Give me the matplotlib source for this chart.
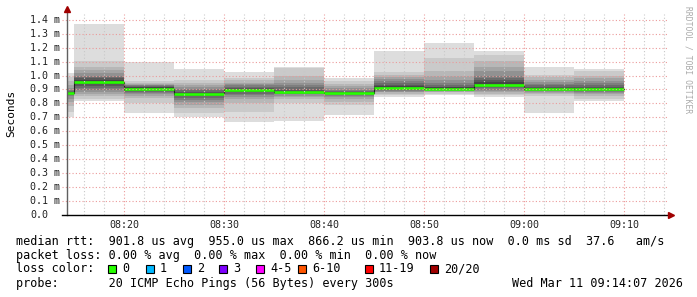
import matplotlib
matplotlib.use('Agg')
import matplotlib.pyplot as plt
import matplotlib.transforms as mtransforms
from matplotlib.patches import Rectangle
import numpy as np

W, H = 697, 297

# bin edges, minutes after 08:00 (5 min steps, first bin only partly shown)
edges = [10, 15, 20, 25, 30, 35, 40, 45, 50, 55, 60, 65, 70]

# median rtt per bin (ms)
median = [0.877, 0.956, 0.906, 0.865, 0.895, 0.882, 0.875, 0.912, 0.904, 0.933, 0.905, 0.904]

# the 20 sorted ping rtts of each bin (ms)
pings = [
    [0.700, 0.740, 0.780, 0.810, 0.830, 0.850, 0.860, 0.870, 0.875, 0.877, 0.878, 0.880, 0.885, 0.890, 0.900, 0.910, 0.930, 0.960, 0.990, 1.018],
    [0.817, 0.835, 0.850, 0.865, 0.880, 0.895, 0.910, 0.925, 0.940, 0.950, 0.960, 0.970, 0.980, 0.990, 1.000, 1.016, 1.040, 1.060, 1.105, 1.371],
    [0.733, 0.800, 0.840, 0.855, 0.865, 0.875, 0.885, 0.890, 0.900, 0.905, 0.910, 0.915, 0.920, 0.925, 0.930, 0.935, 0.940, 0.945, 0.960, 1.100],
    [0.704, 0.729, 0.765, 0.790, 0.810, 0.825, 0.840, 0.850, 0.860, 0.863, 0.868, 0.875, 0.885, 0.895, 0.905, 0.915, 0.930, 0.950, 0.968, 1.045],
    [0.668, 0.740, 0.800, 0.830, 0.845, 0.860, 0.870, 0.880, 0.885, 0.890, 0.900, 0.905, 0.910, 0.920, 0.930, 0.940, 0.950, 0.965, 0.985, 1.025],
    [0.673, 0.800, 0.830, 0.845, 0.855, 0.865, 0.870, 0.875, 0.880, 0.882, 0.885, 0.890, 0.900, 0.915, 0.930, 0.950, 0.970, 1.000, 1.055, 1.064],
    [0.717, 0.790, 0.810, 0.830, 0.845, 0.855, 0.865, 0.870, 0.873, 0.876, 0.878, 0.880, 0.885, 0.890, 0.900, 0.910, 0.925, 0.940, 0.960, 0.980],
    [0.848, 0.860, 0.870, 0.880, 0.885, 0.890, 0.895, 0.900, 0.905, 0.910, 0.915, 0.925, 0.935, 0.950, 0.960, 0.975, 0.990, 1.005, 1.028, 1.179],
    [0.860, 0.870, 0.880, 0.885, 0.890, 0.893, 0.896, 0.900, 0.903, 0.905, 0.910, 0.915, 0.920, 0.930, 0.945, 0.965, 1.000, 1.030, 1.124, 1.237],
    [0.848, 0.860, 0.870, 0.880, 0.890, 0.900, 0.910, 0.920, 0.930, 0.935, 0.945, 0.955, 0.970, 0.980, 1.000, 1.030, 1.064, 1.107, 1.148, 1.179],
    [0.733, 0.850, 0.865, 0.875, 0.885, 0.890, 0.895, 0.900, 0.903, 0.905, 0.908, 0.912, 0.920, 0.930, 0.940, 0.955, 0.970, 0.990, 1.004, 1.064],
    [0.817, 0.835, 0.850, 0.865, 0.875, 0.885, 0.890, 0.895, 0.900, 0.903, 0.906, 0.910, 0.920, 0.930, 0.945, 0.960, 0.980, 1.000, 1.030, 1.047],
]

xtick_pos = [20, 30, 40, 50, 60, 70]
xtick_labels = ["08:20", "08:30", "08:40", "08:50", "09:00", "09:10"]
ytick_vals = [0.0, 0.1, 0.2, 0.3, 0.4, 0.5, 0.6, 0.7, 0.8, 0.9, 1.0, 1.1, 1.2, 1.3, 1.4]
ytick_labels = ["0.0"] + ["%.1f m" % v for v in ytick_vals[1:]]

loss_labels = ["0", "1", "2", "3", "4-5", "6-10", "11-19", "20/20"]
loss_colors = ["#26ff00", "#00b8ff", "#0059ff", "#7e00ff", "#ff00ff", "#ff5500", "#ff0000", "#a00000"]
loss_box_x = [108, 146, 183, 219, 256, 298, 365, 430]

line_rtt = "median rtt:  901.8 us avg  955.0 us max  866.2 us min  903.8 us now  0.0 ms sd  37.6   am/s"
line_loss = "packet loss: 0.00 % avg  0.00 % max  0.00 % min  0.00 % now"
line_probe = "probe:       20 ICMP Echo Pings (56 Bytes) every 300s"
stamp = "Wed Mar 11 09:14:07 2026"

MONO = "DejaVu Sans Mono"
plt.rcParams['font.family'] = MONO


def fx(x):
    return x / W


def fy(y):
    return 1 - y / H


fig = plt.figure(figsize=(W / 100, H / 100), dpi=100)
fig.patch.set_facecolor('white')

# plot area in pixels
left, right, top, bottom = 67, 668, 13.5, 214.6
ax = fig.add_axes([fx(left), fy(bottom), (right - left) / W, (bottom - top) / H])
ax.set_xlim(14.27, 74.37)
ax.set_ylim(0, (bottom - top) / 139.0)
for s in ax.spines.values():
    s.set_visible(False)
ax.set_xticks([])
ax.set_yticks([])

# smoke: nested bands between ping i and ping n+1-i
pa = np.array(pings)
n = pa.shape[1]
half = n // 2
x_step = np.array(edges, dtype=float)
for i in range(1, half):
    lo = pa[:, i - 1]
    hi = pa[:, n - i]
    g = int(190 / half * (half - i)) + 50
    col = '#%02x%02x%02x' % (g, g, g)
    ax.fill_between(x_step, np.append(lo, lo[-1]), np.append(hi, hi[-1]),
                    step='post', color=col, linewidth=0, zorder=1)

# median: thin dark step line, then green per-bin segments
med = np.array(median)
ax.step(x_step, np.append(med, med[-1]), where='post', color='#202020', lw=0.8, zorder=3)
ax.hlines(med, x_step[:-1], x_step[1:], color=loss_colors[0], lw=1.9, zorder=4)

# grid (drawn on top, like rrdtool)
for m in range(16, 75, 2):
    if m % 10 == 0:
        continue
    ax.axvline(m, color='#c8c8c8', lw=0.8, ls=(0, (1, 2)), zorder=5)
for m in xtick_pos:
    ax.axvline(m, color='#eb9a9a', lw=0.8, ls=(0, (1, 2)), zorder=5)
ytr = mtransforms.blended_transform_factory(fig.transFigure, ax.transData)
for v in ytick_vals[1:]:
    ax.plot([fx(62), fx(right)], [v, v], transform=ytr, color='#eb9a9a', lw=0.8,
            ls=(0, (1, 2)), zorder=5, clip_on=False)

# axes with arrows
ax.plot([fx(left), fx(left)], [fy(bottom), fy(9)], transform=fig.transFigure,
        color='#606060', lw=1, zorder=6, clip_on=False)
ax.plot([fx(left)], [fy(9)], transform=fig.transFigure, marker='^', ms=4,
        color='#a00000', zorder=7, clip_on=False)
ax.plot([fx(62), fx(670)], [fy(bottom), fy(bottom)], transform=fig.transFigure,
        color='black', lw=1, zorder=6, clip_on=False)
ax.plot([fx(671)], [fy(bottom)], transform=fig.transFigure, marker='>', ms=4,
        color='#a00000', zorder=7, clip_on=False)

# tick labels
xtr = mtransforms.blended_transform_factory(ax.transData, fig.transFigure)
for p, lab in zip(xtick_pos, xtick_labels):
    ax.text(p, fy(225), lab, transform=xtr, ha='center', va='center',
            fontsize=7.2, family=MONO, color='#222222')
for v, lab in zip(ytick_vals, ytick_labels):
    ax.text(fx(30), v, lab, transform=ytr, ha='left', va='center',
            fontsize=7.2, family=MONO, color='#222222', clip_on=False)

fig.text(fx(11), fy(113), "Seconds", rotation=90, ha='center', va='center',
         fontsize=8, family=MONO)
fig.text(fx(688), fy(60), "RRDTOOL / TOBI OETIKER", rotation=270, ha='center',
         va='center', fontsize=5.8, family=MONO, color='#aaaaaa')

# legend block
fs = 8.5
fig.text(fx(16), fy(241), line_rtt, ha='left', va='center', fontsize=fs, family=MONO)
fig.text(fx(16), fy(255), line_loss, ha='left', va='center', fontsize=fs, family=MONO)
fig.text(fx(16), fy(269), "loss color:", ha='left', va='center', fontsize=fs, family=MONO)
for bx, lab, c in zip(loss_box_x, loss_labels, loss_colors):
    fig.patches.append(Rectangle((fx(bx), fy(273)), 8 / W, 8 / H, transform=fig.transFigure,
                                 facecolor=c, edgecolor='black', lw=0.8))
    fig.text(fx(bx + 14), fy(269), lab, ha='left', va='center', fontsize=fs, family=MONO)
fig.text(fx(16), fy(283.5), line_probe, ha='left', va='center', fontsize=fs, family=MONO)
fig.text(fx(683), fy(283.5), stamp, ha='right', va='center', fontsize=fs, family=MONO)

fig.savefig('out.png', dpi=100, facecolor='white')
